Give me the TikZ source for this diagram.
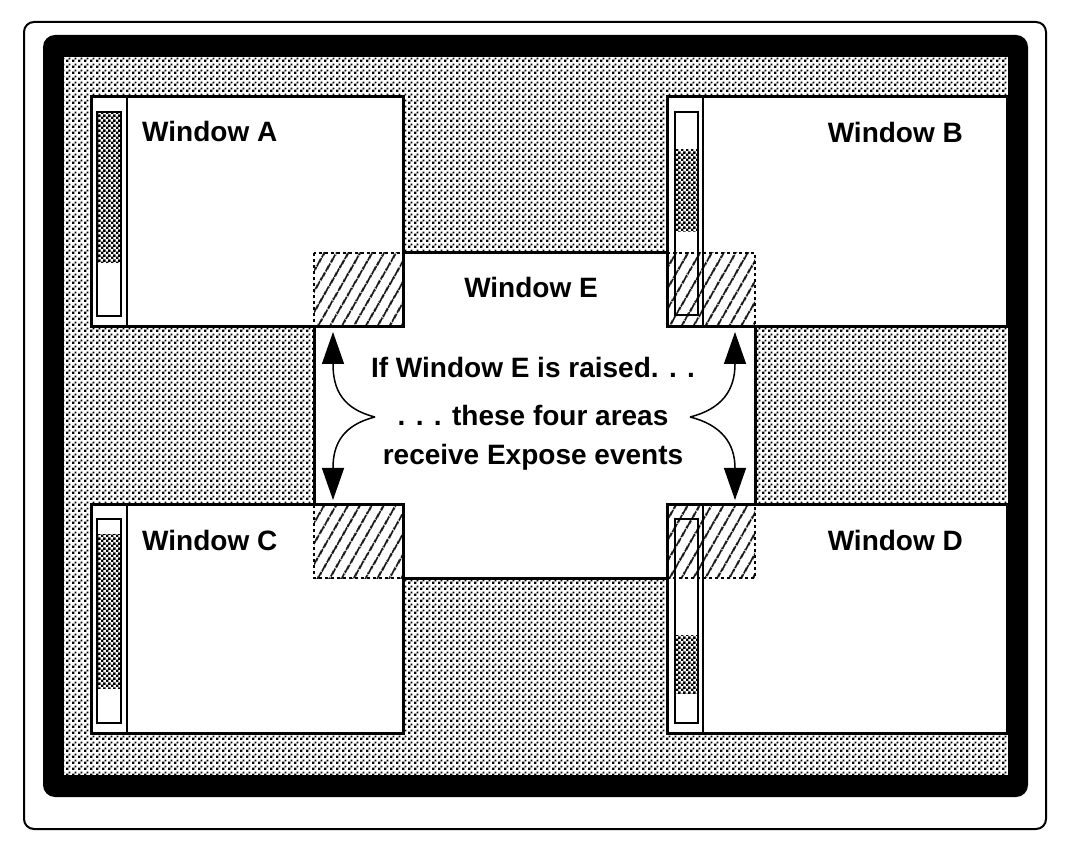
\documentclass[tikz,border=0pt]{standalone}
\usepackage{fontspec}
\setmainfont{Liberation Sans}
\usetikzlibrary{patterns,patterns.meta,arrows.meta}
\pgfdeclarepatternformonly{stipple}{\pgfpointorigin}{\pgfpoint{5.5pt}{5.5pt}}{\pgfpoint{5.5pt}{5.5pt}}{%
  \pgfpathrectangle{\pgfpoint{0pt}{0pt}}{\pgfpoint{2.5pt}{2.5pt}}%
  \pgfpathrectangle{\pgfpoint{2.75pt}{2.75pt}}{\pgfpoint{2pt}{2pt}}%
  \pgfusepath{fill}}
\pgfdeclarepatternformonly{checker}{\pgfpointorigin}{\pgfpoint{4.6pt}{4.6pt}}{\pgfpoint{4.6pt}{4.6pt}}{%
  \pgfpathrectangle{\pgfpoint{0pt}{0pt}}{\pgfpoint{2.6pt}{2.6pt}}%
  \pgfpathrectangle{\pgfpoint{2.3pt}{2.3pt}}{\pgfpoint{2.6pt}{2.6pt}}%
  \pgfusepath{fill}}
\tikzset{
  win/.style={draw=black, fill=white, line width=3pt, inner sep=0pt, outer sep=0pt, anchor=north west},
  divline/.style={line width=2.7pt},
  sbar/.style={line width=2.7pt},
  sshade/.style={pattern=checker},
  hatch/.style={pattern={Lines[angle=60,distance=10.5pt,line width=2.3pt]}},
  hidden/.style={line width=2.2pt, dash pattern=on 3pt off 3pt},
  lbl/.style={font=\fontsize{28}{30}\selectfont\bfseries, inner sep=0pt},
  arr/.style={line width=1.5pt, -{Triangle[width=22pt,length=32pt]}}
}
\begin{document}
\begin{tikzpicture}[x=1pt,y=1pt]
\useasboundingbox (0,0) rectangle (1073,852);
% frames
\draw[line width=2pt, rounded corners=10pt] (24,23) rectangle (1046,830);
\fill[black, rounded corners=12pt] (43,55) rectangle (1028,817);
\fill[white] (64,77) rectangle (1008,795);
\fill[pattern=stipple] (64,77) rectangle (1008,795);
% window E (behind)
\node[win, minimum width=441pt, minimum height=325pt] (winE) at (314,599) {};
% windows A-D
\node[win, minimum width=312pt, minimum height=230pt] (winA) at (91,755) {};
\node[win, minimum width=340pt, minimum height=230pt] (winB) at (667,755) {};
\node[win, minimum width=312pt, minimum height=228pt] (winC) at (91,347) {};
\node[win, minimum width=340pt, minimum height=228pt] (winD) at (667,347) {};
% scrollbar shading
\fill[sshade] (97,740) rectangle (121,589);
\fill[sshade] (675,702) rectangle (698,620);
\fill[sshade] (97,317) rectangle (121,164);
\fill[sshade] (675,217) rectangle (698,159);
% hatched exposed areas
\fill[hatch] (winE.north west) rectangle (winA.south east);
\fill[hatch] (winB.south west) rectangle (winE.north east);
\fill[hatch] (winE.south west) rectangle (winC.north east);
\fill[hatch] (winD.north west) rectangle (winE.south east);
\draw[hidden] (winE.north west) rectangle (winE.south east);
% re-stroke window borders
\foreach \w in {winA,winB,winC,winD}{
  \draw[line width=3pt] (\w.north west) rectangle (\w.south east);
  \draw[divline] ([xshift=36pt]\w.north west) -- ([xshift=36pt]\w.south west);
}
% scrollbars
\draw[sbar] (97,740) rectangle (121,536);
\draw[sbar] (675,740) rectangle (698,537);
\draw[sbar] (97,333) rectangle (121,129);
\draw[sbar] (675,333) rectangle (698,129);
% labels
\node[lbl, anchor=west] (tA) at (142,721) {Window A};
\node[lbl, anchor=east] (tB) at (963,720) {Window B};
\node[lbl, anchor=west] (tC) at (142,312) {Window C};
\node[lbl, anchor=east] (tD) at (963,312) {Window D};
\node[lbl] (tE) at (531,565) {Window E};
\node[lbl] (m1) at (533,485) {If Window E is raised. . .};
\node[lbl] (m2) at (533,437) {. . . these four areas};
\node[lbl] (m3) at (533,395) {receive Expose events};
% arrows
\coordinate (jl) at (375,435);
\coordinate (jr) at (690,435);
\coordinate (tlu) at (333,520);
\coordinate (tld) at (333,352);
\coordinate (tru) at (735,520);
\coordinate (trd) at (735,352);
\draw[arr] (jl) .. controls (343,443) and (333,462) .. (333,488) -- (tlu);
\draw[arr] (jl) .. controls (343,427) and (333,408) .. (333,384) -- (tld);
\draw[arr] (jr) .. controls (722,443) and (735,462) .. (735,488) -- (tru);
\draw[arr] (jr) .. controls (722,427) and (735,408) .. (735,384) -- (trd);
\end{tikzpicture}
\end{document}
